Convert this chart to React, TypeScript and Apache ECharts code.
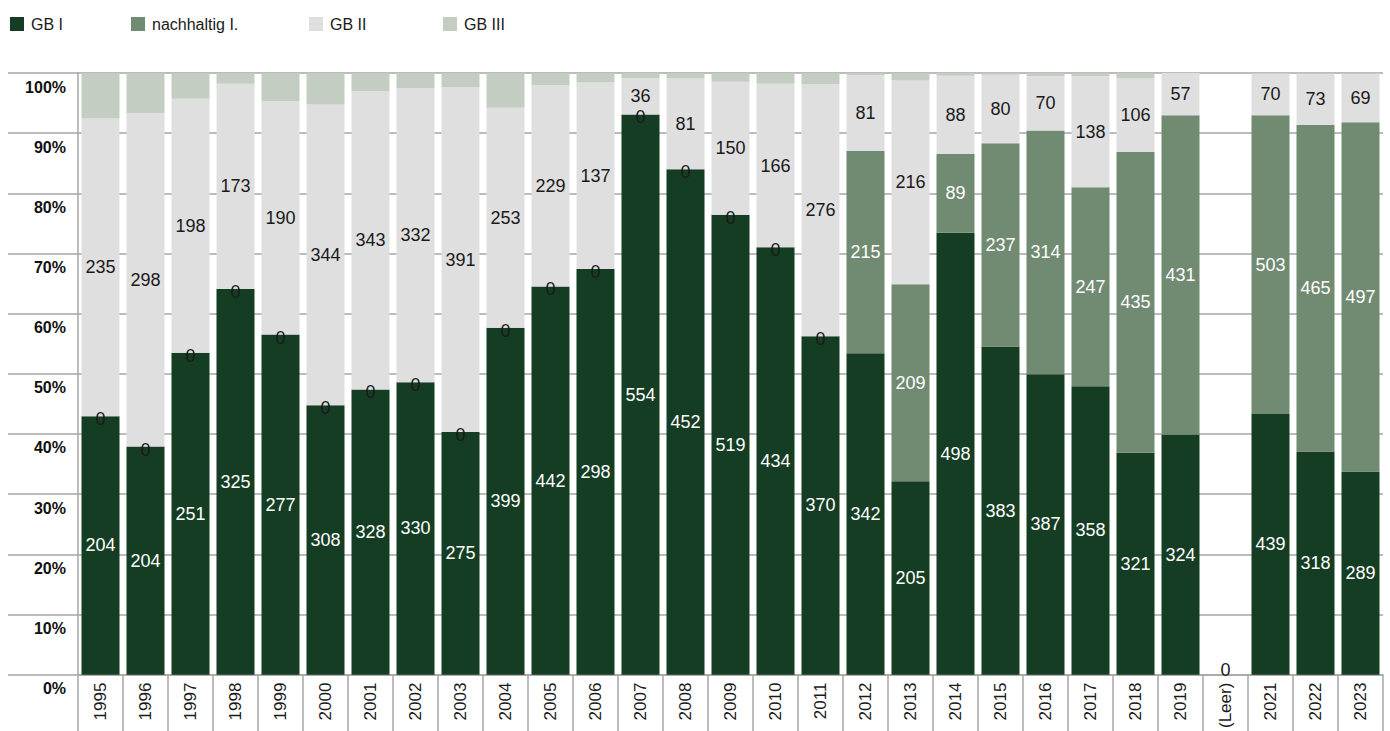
import React, { useEffect, useRef } from "react";
import * as echarts from "echarts";

const categories = [
  "1995", "1996", "1997", "1998", "1999", "2000", "2001", "2002", "2003", "2004",
  "2005", "2006", "2007", "2008", "2009", "2010", "2011", "2012", "2013", "2014",
  "2015", "2016", "2017", "2018", "2019", "(Leer)", "2021", "2022", "2023",
];
const gb1 = [204, 204, 251, 325, 277, 308, 328, 330, 275, 399, 442, 298, 554, 452, 519, 434, 370, 342, 205, 498, 383, 387, 358, 321, 324, 0, 439, 318, 289];
const nachhaltig = [0, 0, 0, 0, 0, 0, 0, 0, 0, 0, 0, 0, 0, 0, 0, 0, 0, 215, 209, 89, 237, 314, 247, 435, 431, 0, 503, 465, 497];
const gb2 = [235, 298, 198, 173, 190, 344, 343, 332, 391, 253, 229, 137, 36, 81, 150, 166, 276, 81, 216, 88, 80, 70, 138, 106, 57, 0, 70, 73, 69];
const gb3 = [36, 36, 20, 9, 23, 36, 21, 17, 16, 40, 14, 7, 5, 5, 10, 11, 12, 2, 8, 3, 2, 4, 4, 8, 0, 0, 1, 1, 1];

const seriesNames = ["GB I", "nachhaltig I.", "GB II", "GB III"];
const colors = ["#153d24", "#718b73", "#dfdfdf", "#c3cdc1"];

const FONT = "Liberation Sans";

export default function App() {
  const ref = useRef<HTMLDivElement>(null);
  useEffect(() => {
    if (!ref.current) return;
    const chart = echarts.init(ref.current, null, { renderer: "svg" });
    const raw = [gb1, nachhaltig, gb2, gb3];
    const totals = categories.map((_, i) => raw.reduce((s, arr) => s + arr[i], 0));
    const mk = (arr: number[]) =>
      arr.map((v, i) => ({ value: totals[i] ? (v / totals[i]) * 100 : 0, raw: v }));

    const labelFor = (si: number) => {
      if (si === 3) return { show: false };
      return {
        show: true,
        position: "inside" as const,
        fontFamily: FONT,
        fontSize: 18,
        formatter: (p: any) => {
          const isEmpty = totals[p.dataIndex] === 0;
          if (isEmpty && si !== 1) return "";
          return String(p.data.raw);
        },
        color: si === 2 ? "#1a1a1a" : "#ffffff",
      };
    };

    const series = raw.map((arr, si) => ({
      name: seriesNames[si],
      type: "bar",
      stack: "total",
      barWidth: 38,
      itemStyle: { color: colors[si] },
      label: labelFor(si),
      data: mk(arr).map((d, i) =>
        si === 1 && d.raw === 0
          ? { ...d, label: { color: "#1a1a1a", offset: totals[i] === 0 ? [0, -5] : [0, 3] } }
          : d
      ),
    }));

    const legendLefts = [10, 131, 309, 443];
    const legend = seriesNames.map((n, i) => ({
      data: [n],
      left: legendLefts[i],
      top: 16,
      padding: 0,
      itemWidth: 14,
      itemHeight: 14,
      itemGap: 0,
      icon: "rect",
      selectedMode: false,
      textStyle: { fontFamily: FONT, fontSize: 16, color: "#1a1a1a", padding: [0, 0, 0, 2] },
    }));

    chart.setOption({
      animation: false,
      color: colors,
      legend,
      grid: { left: 78, right: 7, top: 73, bottom: 53, containLabel: false },
      xAxis: {
        type: "category",
        data: categories,
        axisLine: { show: true, lineStyle: { color: "#a6a6a6", width: 1.5 } },
        axisTick: { show: true, length: 60, lineStyle: { color: "#a6a6a6", width: 1.5 } },
        axisLabel: {
          interval: 0,
          rotate: 90,
          margin: 8,
          fontFamily: FONT,
          fontSize: 17,
          color: "#1a1a1a",
        },
      },
      yAxis: {
        type: "value",
        min: 0,
        max: 100,
        interval: 10,
        axisLine: { show: true, lineStyle: { color: "#a6a6a6", width: 1.5 } },
        axisTick: { show: true, length: 70, lineStyle: { color: "#a6a6a6", width: 1.5 } },
        splitLine: { show: true, lineStyle: { color: "#a6a6a6", width: 1.5 } },
        axisLabel: {
          formatter: "{value}%",
          fontFamily: FONT,
          fontWeight: "bold",
          fontSize: 16,
          color: "#111",
          margin: 12,
          verticalAlign: "top",
          padding: [6, 0, 0, 0],
        },
      },
      series,
    });
    return () => chart.dispose();
  }, []);
  return (
    <div
      ref={ref}
      style={{ position: "fixed", left: 0, top: 0, width: 1390, height: 731, background: "#fff" }}
    />
  );
}
